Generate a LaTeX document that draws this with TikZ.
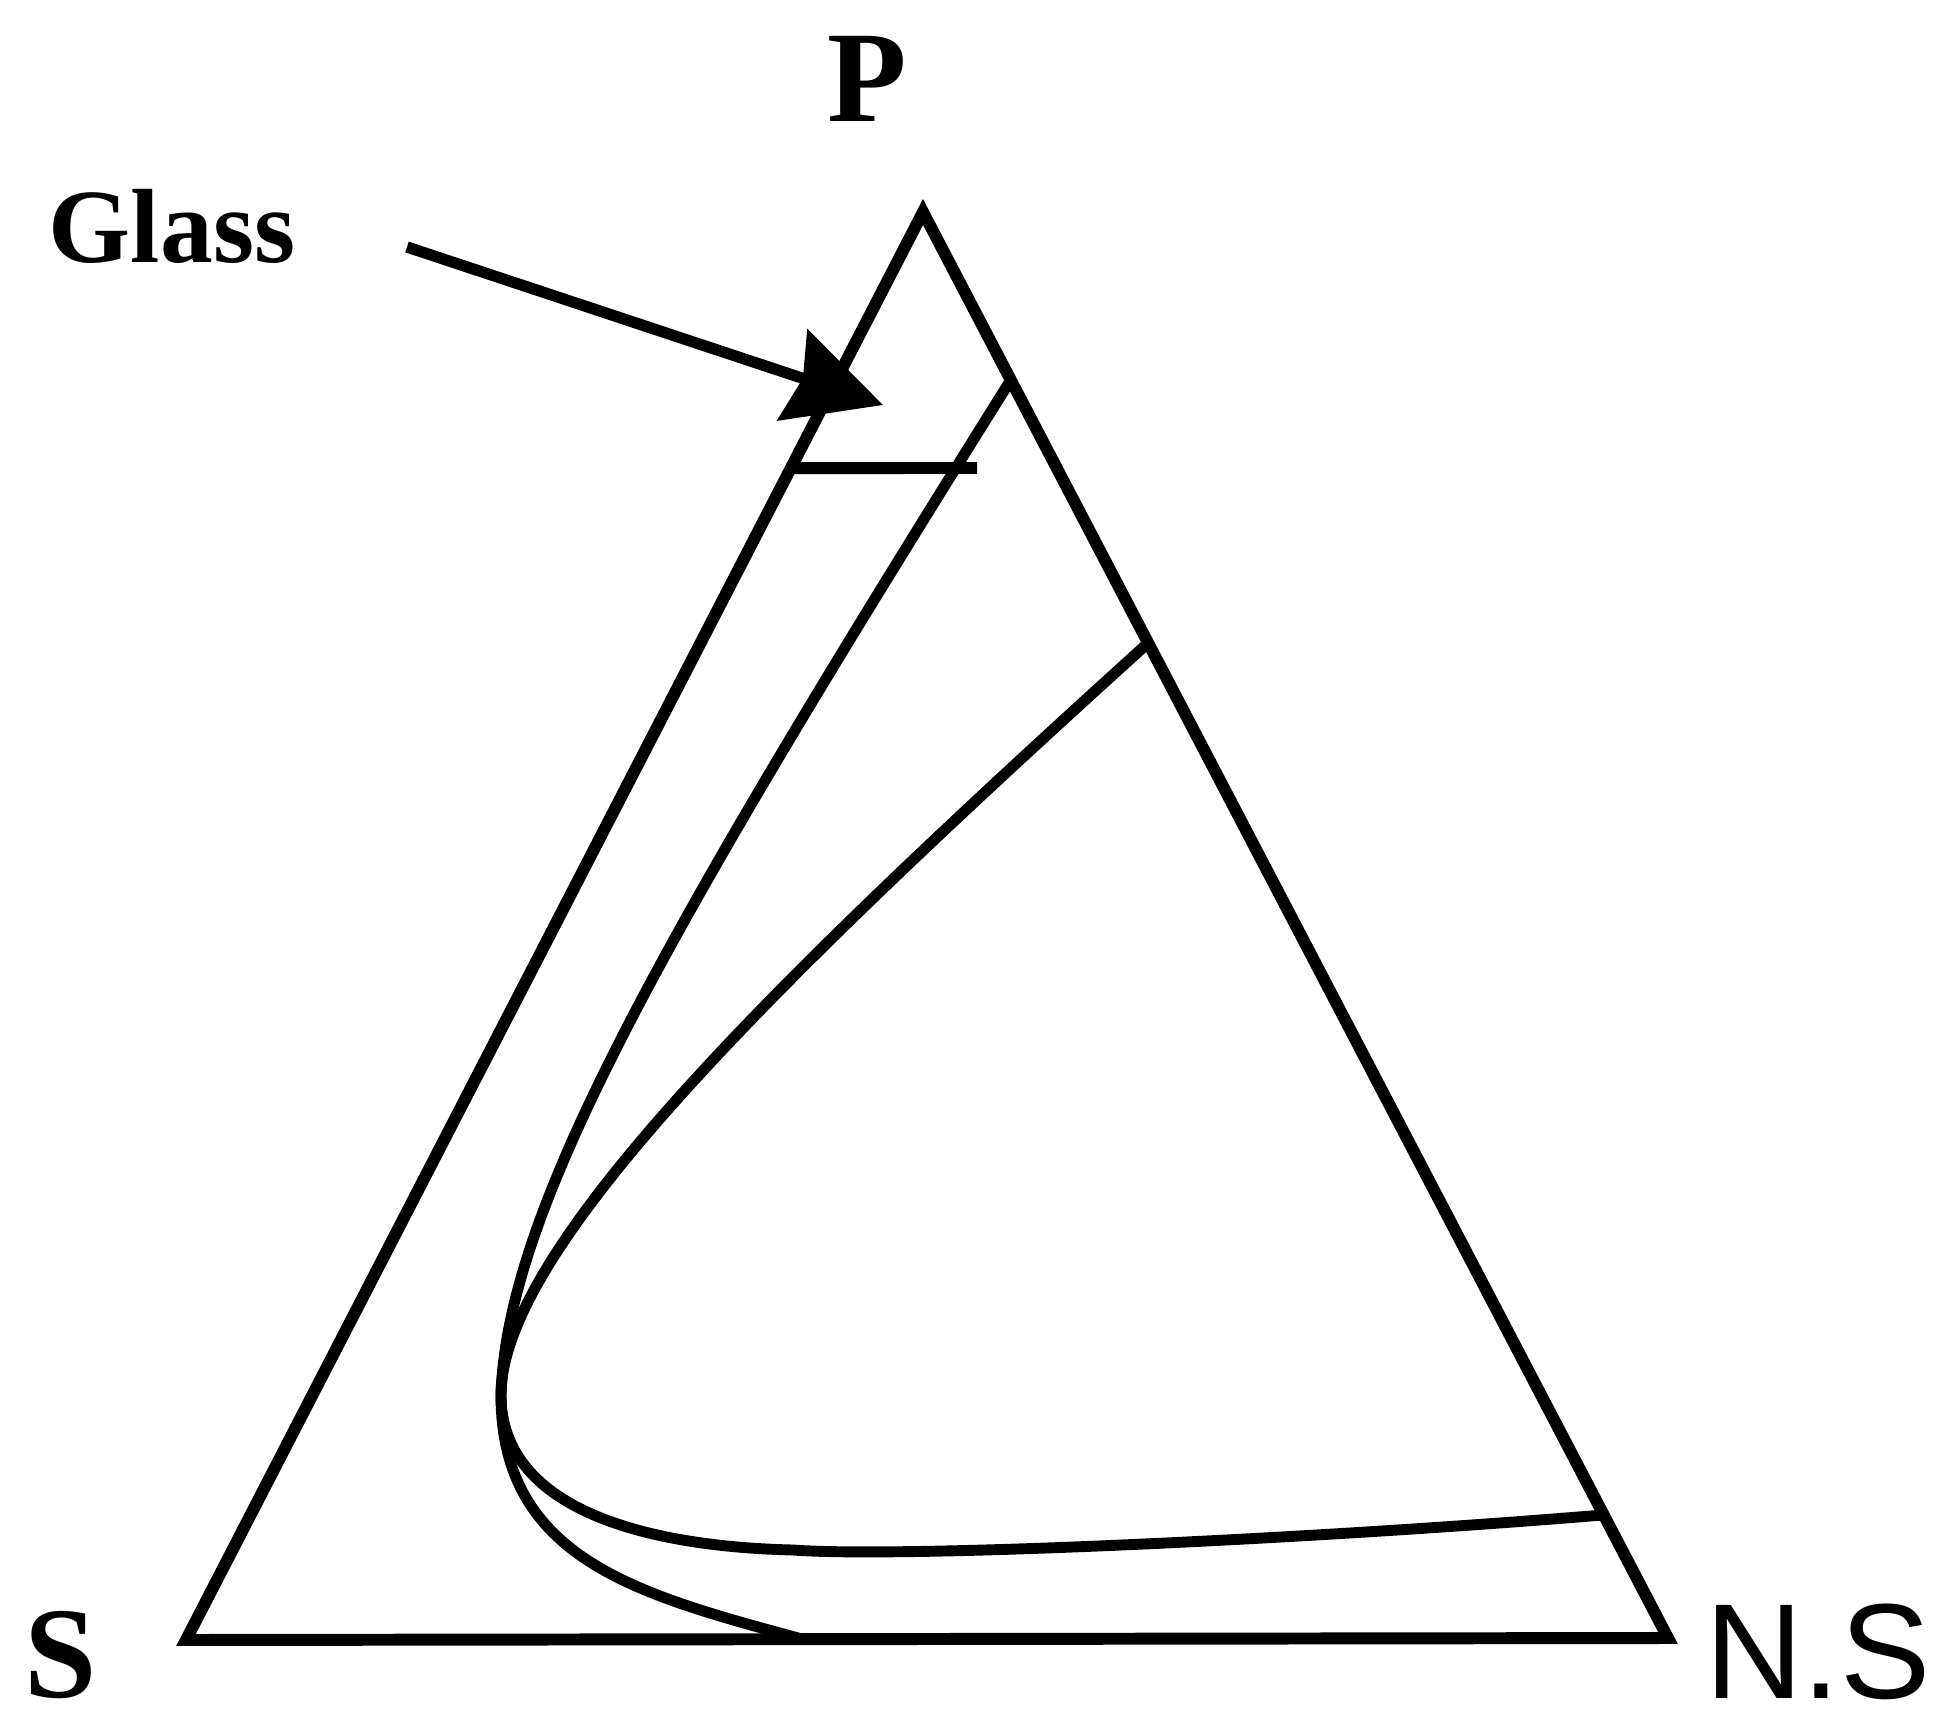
\documentclass[tikz,border=0pt]{standalone}
\usepackage{fontspec}
\setmainfont{Liberation Serif}
\newfontfamily\arialfont{Liberation Sans}
\usetikzlibrary{arrows.meta, calc}

\begin{document}
\begin{tikzpicture}[x=0.01cm, y=-0.01cm,
  edge/.style={line width=3.4pt, line join=miter},
  curve/.style={line width=3.1pt, line join=round},
  corner/.style={font=\bfseries\fontsize{37}{40}\selectfont, anchor=base, inner sep=0pt},
  pointer/.style={line width=3.2pt, -{Stealth[length=27pt, width=27pt, inset=3pt]}},
]
\useasboundingbox (0,0) rectangle (1941,1721);

% corners
\coordinate (P)  at (923,212);
\coordinate (S)  at (186,1640);
\coordinate (NS) at (1668,1638);

\node[corner] (lblP)  at (867,121)  {P};
\node[corner] (lblS)  at (61,1697)  {S};
\node[corner, font=\arialfont\fontsize{38.5}{41}\selectfont] (lblNS) at (1818,1698) {N.S};
\node[corner, font=\bfseries\fontsize{30}{33}\selectfont] (glass) at (172,262) {Glass};

\draw[edge] (S) -- (P) -- (NS) -- cycle;

% where the curves meet the sides
\coordinate (A)  at ($(P)!0.1178!(NS)$);
\coordinate (B)  at ($(P)!0.3022!(NS)$);
\coordinate (C)  at ($(P)!0.9137!(NS)$);
\coordinate (D)  at ($(S)!0.416!(NS)$);
\coordinate (Q)  at (501,1395);
\coordinate (F)  at (793,1550);
\coordinate (H1) at ($(S)!0.8207!(P)$);
\coordinate (H2) at (977,468);

\draw[curve] (A) .. controls (660,940) and (507,1210) .. (Q)
                 .. controls (501,1560) and (640,1595) .. (D);
\draw[curve] (B) .. controls (770,985) and (501,1250) .. (Q)
                 .. controls (501,1515) and (660,1547) .. (F)
                 .. controls (900,1558) and (1300,1540) .. (C);

\draw[edge] (H1) -- (H2);

% glass arrow
\coordinate (gtail) at (407,247);
\coordinate (ghead) at (883,405);
\draw[pointer] (gtail) -- (ghead);

\end{tikzpicture}
\end{document}
